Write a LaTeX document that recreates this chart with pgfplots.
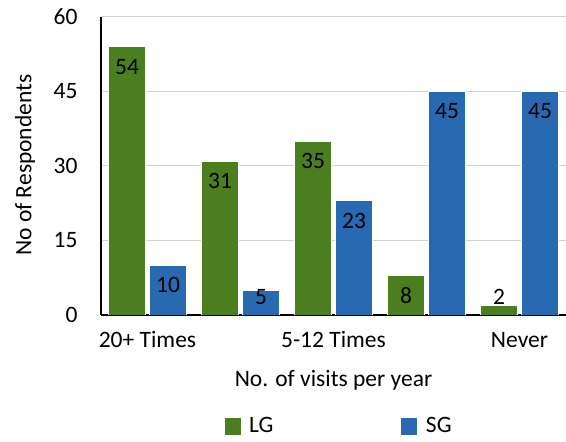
\documentclass[border=0pt]{standalone}
\usepackage{pgfplots}
\pgfplotsset{compat=1.18}
\usepackage{fontspec}
\setmainfont{Carlito}
\definecolor{lg}{RGB}{74,126,30}
\definecolor{sg}{RGB}{40,106,178}
\newcommand{\fs}{\fontsize{23.5}{28}\selectfont}
\begin{document}
\begin{tikzpicture}
\begin{axis}[
 name=ax,
 scale only axis, width=465pt, height=298pt,
 ybar=4pt, bar width=37pt,
 xmin=-0.5, xmax=4.5, ymin=0, ymax=60,
 xtick={0,1,2,3,4}, xticklabels={20+ Times,,5-12 Times,,Never},
 ytick={0,15,30,45,60},
 major tick length=0pt,
 axis lines*=left, axis line style={-, black, line width=1.6pt},
 ymajorgrids, grid style={black!18, line width=1pt},
 font=\fs,
 ticklabel style={font=\fs},
 /pgf/number format/assume math mode=true,
 yticklabel style={xshift=-20pt},
 xticklabel style={anchor=base, yshift=-33pt},
 xlabel={No. of visits per year}, ylabel={No of Respondents},
 xlabel style={font=\fs, at={(rel axis cs:0.5,-0.218)}, anchor=center},
 ylabel style={font=\fs, at={(rel axis cs:-0.163,0.503)}, anchor=center, rotate=0},
 visualization depends on={y \as \rawy},
 nodes near coords,
 nodes near coords style={font=\fs, text=black, anchor=center,
   yshift={ifthenelse(\rawy<4,8,ifthenelse(\rawy<7,-7,-20))}},
 legend columns=2,
 legend style={at={(0.511,-0.372)}, anchor=center, draw=none, fill=none,
   font=\fs,
   /tikz/every odd column/.append style={column sep=6pt},
   /tikz/every even column/.append style={column sep=125pt}},
 legend image code/.code={\fill[#1] (0pt,-9pt) rectangle (17pt,9pt);},
]
\addplot[fill=lg, draw=white, line width=0.6pt] coordinates {(0,54) (1,31) (2,35) (3,8) (4,2)};
\addplot[fill=sg, draw=white, line width=0.6pt] coordinates {(0,10) (1,5) (2,23) (3,45) (4,45)};
\legend{LG,SG}
\end{axis}
\pgfresetboundingbox
\path ([shift={(-101pt,-127pt)}]ax.south west) rectangle ([shift={(0pt,17pt)}]ax.north east);
\end{tikzpicture}
\end{document}
